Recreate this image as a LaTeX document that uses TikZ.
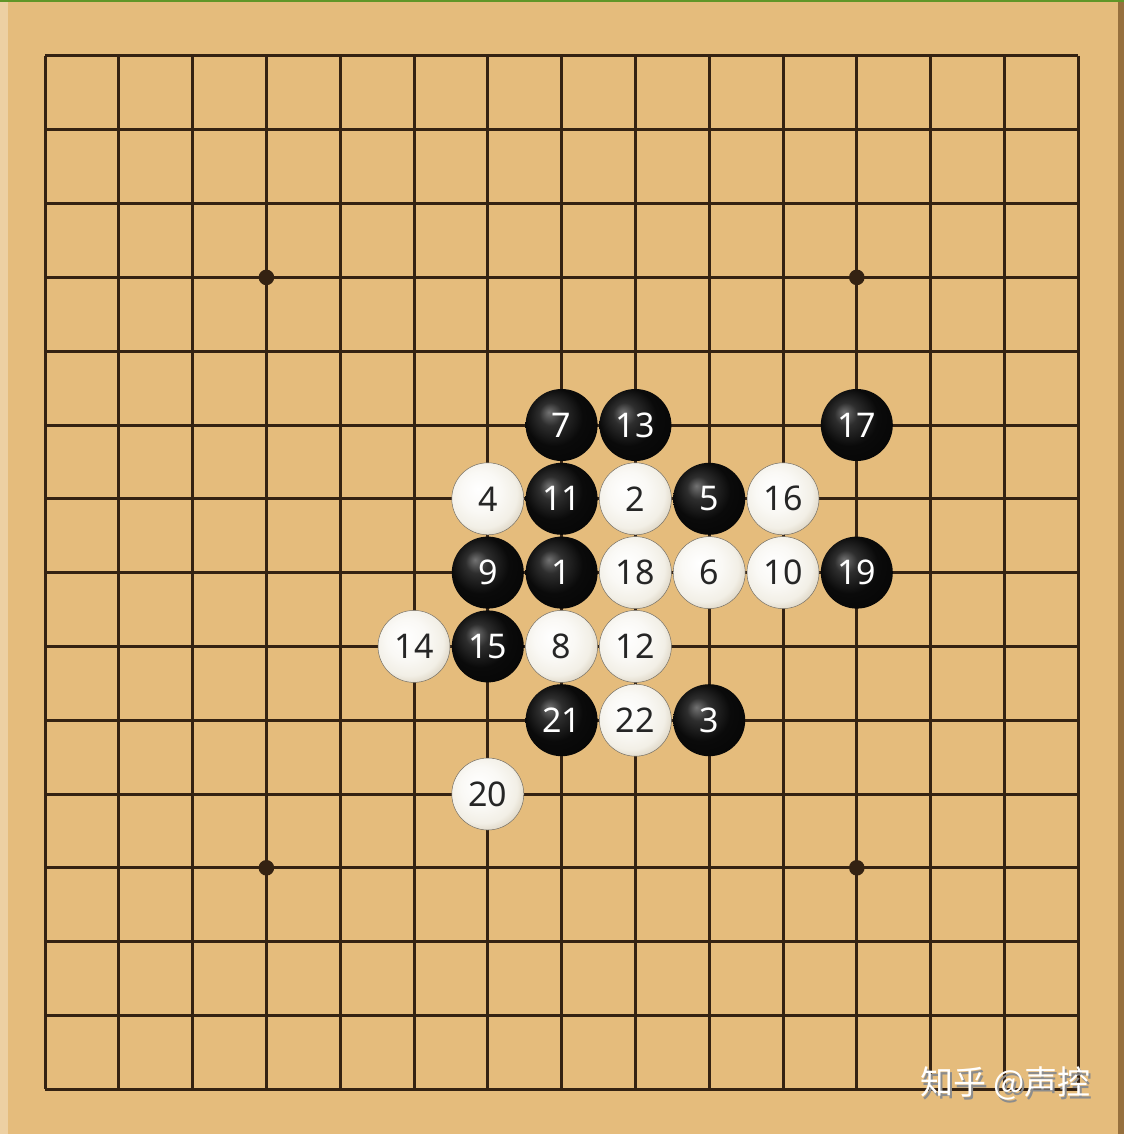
\documentclass[tikz,border=0pt]{standalone}
\usepackage{fontspec}
\setmainfont{Noto Sans}
\newfontfamily\cjk{Noto Sans CJK SC}

\definecolor{wood}{RGB}{229,188,124}
\definecolor{woodedge}{RGB}{150,112,62}
\definecolor{gridline}{RGB}{52,34,18}
\definecolor{topline}{RGB}{96,150,40}
\definecolor{stonecream}{RGB}{242,239,230}
\definecolor{stoneshade}{RGB}{212,202,182}

\pgfdeclareradialshading{blackball}{\pgfpoint{-9bp}{9bp}}{color(0bp)=(black!55); color(8bp)=(black!82); color(20bp)=(black!96); color(50bp)=(black)}
\pgfdeclareradialshading{whiteball}{\pgfpoint{-7bp}{7bp}}{color(0bp)=(white); color(14bp)=(white!60!stonecream); color(24bp)=(stonecream); color(32bp)=(stoneshade); color(50bp)=(stoneshade!80!black)}

\tikzset{
  stone/.style={circle, minimum size=72pt, inner sep=0pt, font=\fontsize{34}{34}\selectfont},
  bstone/.style={stone, shading=blackball, text=white},
  wstone/.style={stone, shading=whiteball, draw=stoneshade!55!black, line width=0.5pt, text=black!85},
}

% stone at column #1, row #2, move number #3
\newcommand{\bmove}[3]{\node[bstone] (m#3) at (45+73.8*#1, 56+73.8*#2) {#3};}
\newcommand{\wmove}[3]{\node[wstone] (m#3) at (45+73.8*#1, 56+73.8*#2) {#3};}

\begin{document}
\begin{tikzpicture}[x=1pt,y=-1pt]
\useasboundingbox (0,0) rectangle (1124,1134);
\fill[wood] (0,0) rectangle (1124,1134);
\fill[wood!70!white] (0,2) rectangle (8,1134);
\fill[woodedge] (1118,0) rectangle (1124,1134);
\fill[topline] (0,0) rectangle (1124,2.5);

% the board
\foreach \i in {0,...,14} {
  \draw[gridline, line width=3pt] (45+73.8*\i,56) -- (45+73.8*\i,1089.2);
  \draw[gridline, line width=3pt] (45,56+73.8*\i) -- (1078.2,56+73.8*\i);
}
\foreach \c/\r in {3/3, 11/3, 3/11, 11/11}
  \fill[gridline] (45+73.8*\c, 56+73.8*\r) circle (7.8pt);

% the moves
\bmove{7}{7}{1}
\wmove{8}{6}{2}
\bmove{9}{9}{3}
\wmove{6}{6}{4}
\bmove{9}{6}{5}
\wmove{9}{7}{6}
\bmove{7}{5}{7}
\wmove{7}{8}{8}
\bmove{6}{7}{9}
\wmove{10}{7}{10}
\bmove{7}{6}{11}
\wmove{8}{8}{12}
\bmove{8}{5}{13}
\wmove{5}{8}{14}
\bmove{6}{8}{15}
\wmove{10}{6}{16}
\bmove{11}{5}{17}
\wmove{8}{7}{18}
\bmove{11}{7}{19}
\wmove{6}{10}{20}
\bmove{7}{9}{21}
\wmove{8}{9}{22}

% watermark, with its shadow
\node[font=\cjk\fontsize{33}{33}\selectfont] (mark) at (1005.5,1085)
  {\rlap{\hspace{2pt}\raisebox{-2.5pt}{\color{black!45}知乎 @声控}}\color{white}知乎 @声控};
\end{tikzpicture}
\end{document}
